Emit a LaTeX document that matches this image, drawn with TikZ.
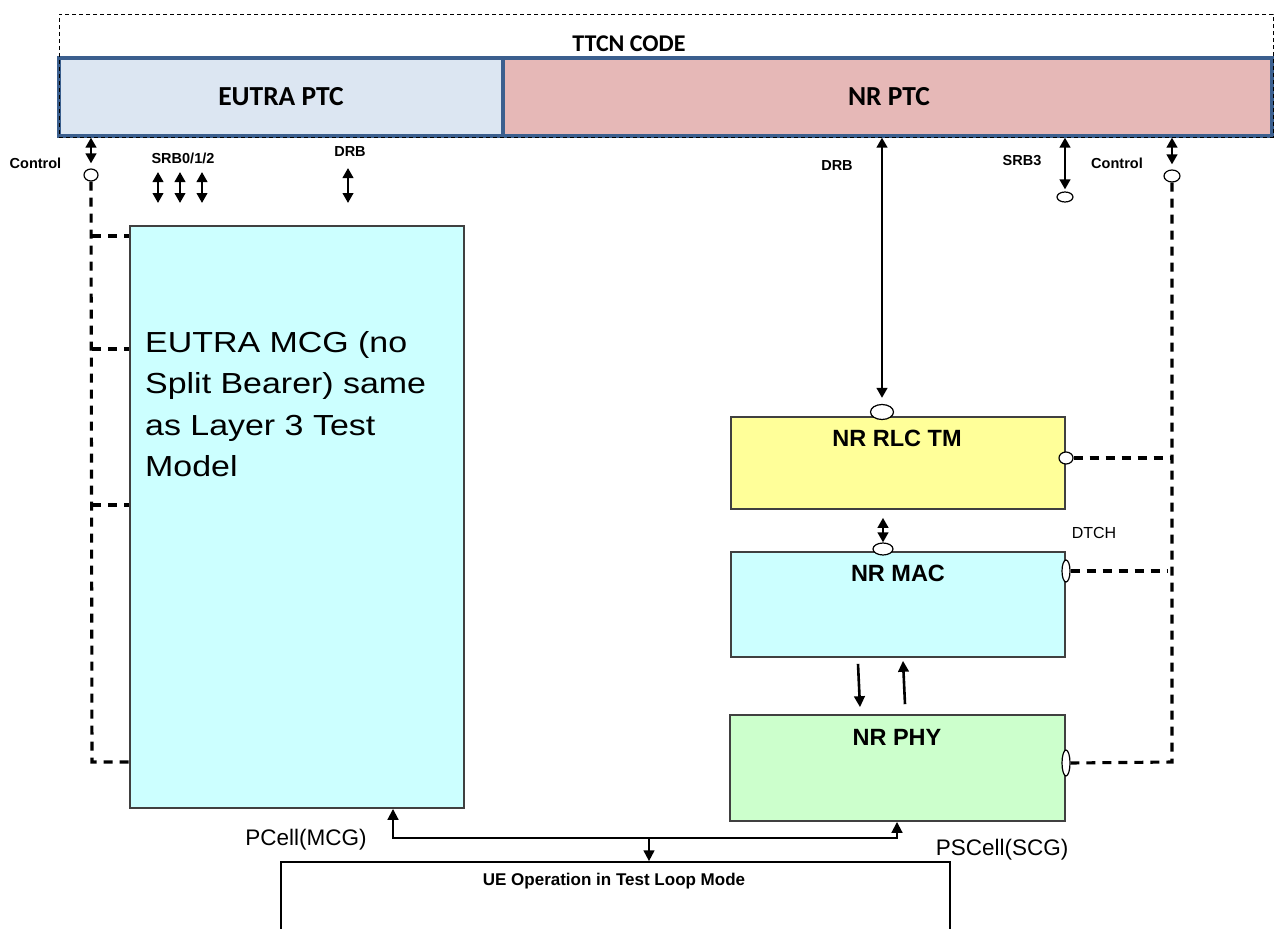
\documentclass[tikz,border=0pt]{standalone}
\usepackage{fontspec}
\setmainfont{Liberation Sans}
\newfontfamily\calibrifont{Carlito}
\newfontfamily\widearial[FakeStretch=1.17]{Liberation Sans}
\usetikzlibrary{arrows.meta,shapes.geometric}
\definecolor{ptcblue}{HTML}{DCE6F2}
\definecolor{ptcred}{HTML}{E6B8B7}
\definecolor{ptcline}{HTML}{3B5F8E}
\definecolor{cyanbox}{HTML}{CCFFFF}
\definecolor{yellowbox}{HTML}{FFFF99}
\definecolor{greenbox}{HTML}{CCFFCC}
\definecolor{boxline}{HTML}{404040}
\begin{document}
\begin{tikzpicture}[x=1pt,y=-1pt,
  ptcbox/.style={draw=ptcline,line width=3.2pt,inner sep=0pt,rectangle},
  layerbox/.style={draw=boxline,line width=1.6pt,inner sep=0pt,rectangle},
  port/.style={draw=black,fill=white,line width=1.2pt,ellipse,inner sep=0pt},
  ctrlline/.style={line width=3.1pt,dash pattern=on 9pt off 7pt},
  dbl/.style={line width=2.8pt,{Triangle[width=10.5pt,length=10pt]}-{Triangle[width=10.5pt,length=10pt]}},
  sarr/.style={line width=2.6pt,-{Triangle[width=10.5pt,length=11pt]}},
  smalllbl/.style={font=\fontsize{14.5}{17}\selectfont\bfseries,inner sep=0pt},
  layerlbl/.style={font=\fontsize{23.5}{28}\selectfont\bfseries,inner sep=0pt},
  ptclbl/.style={font=\calibrifont\fontsize{27.5}{32}\selectfont\bfseries,inner sep=0pt},
  celllbl/.style={font=\fontsize{22.5}{27}\selectfont,inner sep=0pt}
]
\useasboundingbox (0,0) rectangle (1275,929);

% PTC boxes
\node[ptcbox,fill=ptcblue,minimum width=444pt,minimum height=78pt] (eptc) at (281,97) {};
\node[ptcbox,fill=ptcred,minimum width=769pt,minimum height=78pt] (nptc) at (887.5,97) {};
\node[ptclbl] (eptcl) at (281,97) {EUTRA PTC};
\node[ptclbl] (nptcl) at (889,97) {NR PTC};
% outer TTCN code box
\node[draw=black,line width=1pt,dash pattern=on 4pt off 3pt,rectangle,inner sep=0pt,minimum width=1214pt,minimum height=123pt] (ttcn) at (666,75.5) {};
\node[font=\calibrifont\fontsize{24}{28}\selectfont\bfseries,inner sep=0pt] (ttcnl) at (629,44) {TTCN CODE};

% layer boxes
\node[layerbox,fill=cyanbox,minimum width=334pt,minimum height=582pt] (mcg) at (297,517) {};
\node[anchor=north west,align=left,inner sep=0pt,font=\widearial\fontsize{29}{41.5}\selectfont] (mcgl) at (145,331) {EUTRA MCG (no\\Split Bearer) same\\as Layer 3 Test\\Model};
\node[layerbox,fill=yellowbox,minimum width=334pt,minimum height=92pt] (rlc) at (898,463) {};
\node[layerbox,fill=cyanbox,minimum width=334pt,minimum height=105pt] (mac) at (898,604.5) {};
\node[layerbox,fill=greenbox,minimum width=335pt,minimum height=106pt] (phy) at (897.5,768) {};
\node[layerlbl] (rlcl) at (897,438) {NR RLC TM};
\node[layerlbl] (macl) at (898,573) {NR MAC};
\node[layerlbl] (phyl) at (897,737) {NR PHY};
\node[draw=black,line width=1.4pt,rectangle,inner sep=0pt,minimum width=669pt,minimum height=78pt] (ue) at (615.5,901) {};
\node[font=\fontsize{17}{20}\selectfont\bfseries,inner sep=0pt] (uel) at (614,881) {UE Operation in Test Loop Mode};

% ports
\node[port,minimum width=14pt,minimum height=12pt] (lctl) at (91,175) {};
\node[port,minimum width=16pt,minimum height=12pt] (rctl) at (1172,176) {};
\node[port,minimum width=16pt,minimum height=10pt] (srb3p) at (1065,197) {};
\node[port,minimum width=23pt,minimum height=15pt] (rlctop) at (882,412) {};
\node[port,minimum width=14pt,minimum height=12pt] (rlcright) at (1066,458) {};
\node[port,minimum width=20pt,minimum height=12pt] (mactop) at (883,549) {};
\node[port,minimum width=8pt,minimum height=22pt] (macright) at (1066,571) {};
\node[port,minimum width=8pt,minimum height=26pt] (phyright) at (1066,763) {};

% labels
\node[smalllbl] (lctll) at (35.5,163) {Control};
\node[smalllbl] (srbl) at (183,158) {SRB0/1/2};
\node[smalllbl] (ldrbl) at (350,152) {DRB};
\node[smalllbl] (rdrbl) at (837,166) {DRB};
\node[smalllbl] (srb3l) at (1022,161) {SRB3};
\node[smalllbl] (rctll) at (1117,163) {Control};
\node[font=\fontsize{16}{19}\selectfont,inner sep=0pt] (dtchl) at (1094,533) {DTCH};
\node[celllbl] (pcelll) at (306,840) {PCell(MCG)};
\node[celllbl] (pscelll) at (1002,850) {PSCell(SCG)};

% left control
\draw[dbl,shorten >=5pt] (lctl.north |- eptc.south) -- (lctl.north);
\coordinate (lb1) at (92,236);
\coordinate (lb2) at (92,349);
\coordinate (lb3) at (92,505);
\coordinate (lb4) at (92,762);
\draw[ctrlline] (lctl.south) -- (lb4) -- (lb4 -| mcg.west);
\draw[ctrlline] (lb1) -- (lb1 -| mcg.west);
\draw[ctrlline] (lb2) -- (lb2 -| mcg.west);
\draw[ctrlline] (lb3) -- (lb3 -| mcg.west);

% SRB0/1/2 and DRB (EUTRA)
\coordinate (s1a) at (158,172); \coordinate (s1b) at (158,203);
\coordinate (s2a) at (180,172); \coordinate (s2b) at (180,203);
\coordinate (s3a) at (202,172); \coordinate (s3b) at (202,203);
\coordinate (d1a) at (348,168); \coordinate (d1b) at (348,203);
\draw[dbl] (s1a) -- (s1b);
\draw[dbl] (s2a) -- (s2b);
\draw[dbl] (s3a) -- (s3b);
\draw[dbl] (d1a) -- (d1b);

% NR side
\draw[dbl,shorten >=6pt] (rlctop.north |- nptc.south) -- (rlctop.north);
\draw[dbl,shorten >=2pt] (srb3p.north |- nptc.south) -- (srb3p.north);
\draw[dbl,shorten >=5pt] (rctl.north |- nptc.south) -- (rctl.north);
\draw[dbl,shorten <=8pt] (mactop.north |- rlc.south) -- (mactop.north);

\coordinate (rb4) at (1172,762);
\draw[ctrlline] (rctl.south) -- (rb4) -- (phyright.east);
\draw[ctrlline] (rlcright.east) -- (rlcright.east -| 1170,0);
\draw[ctrlline] (macright.east) -- (macright.east -| 1167,0);

\draw[sarr] ([xshift=-40pt,yshift=-6pt]mac.south) -- ([xshift=-37.5pt,yshift=7pt]phy.north);
\draw[sarr] ([xshift=7.5pt,yshift=10pt]phy.north) -- ([xshift=5pt,yshift=-3pt]mac.south);

% bottom connection
\coordinate (pl) at (393,838);
\coordinate (pr) at (897,838);
\coordinate (jn) at (649,838);
\draw[line width=2.9pt,{Triangle[width=10.5pt,length=11pt]}-{Triangle[width=10.5pt,length=11pt]}] (pl |- mcg.south) -- (pl) -- (pr) -- (pr |- phy.south);
\draw[line width=2.9pt,-{Triangle[width=10.5pt,length=11pt]}] (jn) -- (jn |- ue.north);
\end{tikzpicture}
\end{document}
